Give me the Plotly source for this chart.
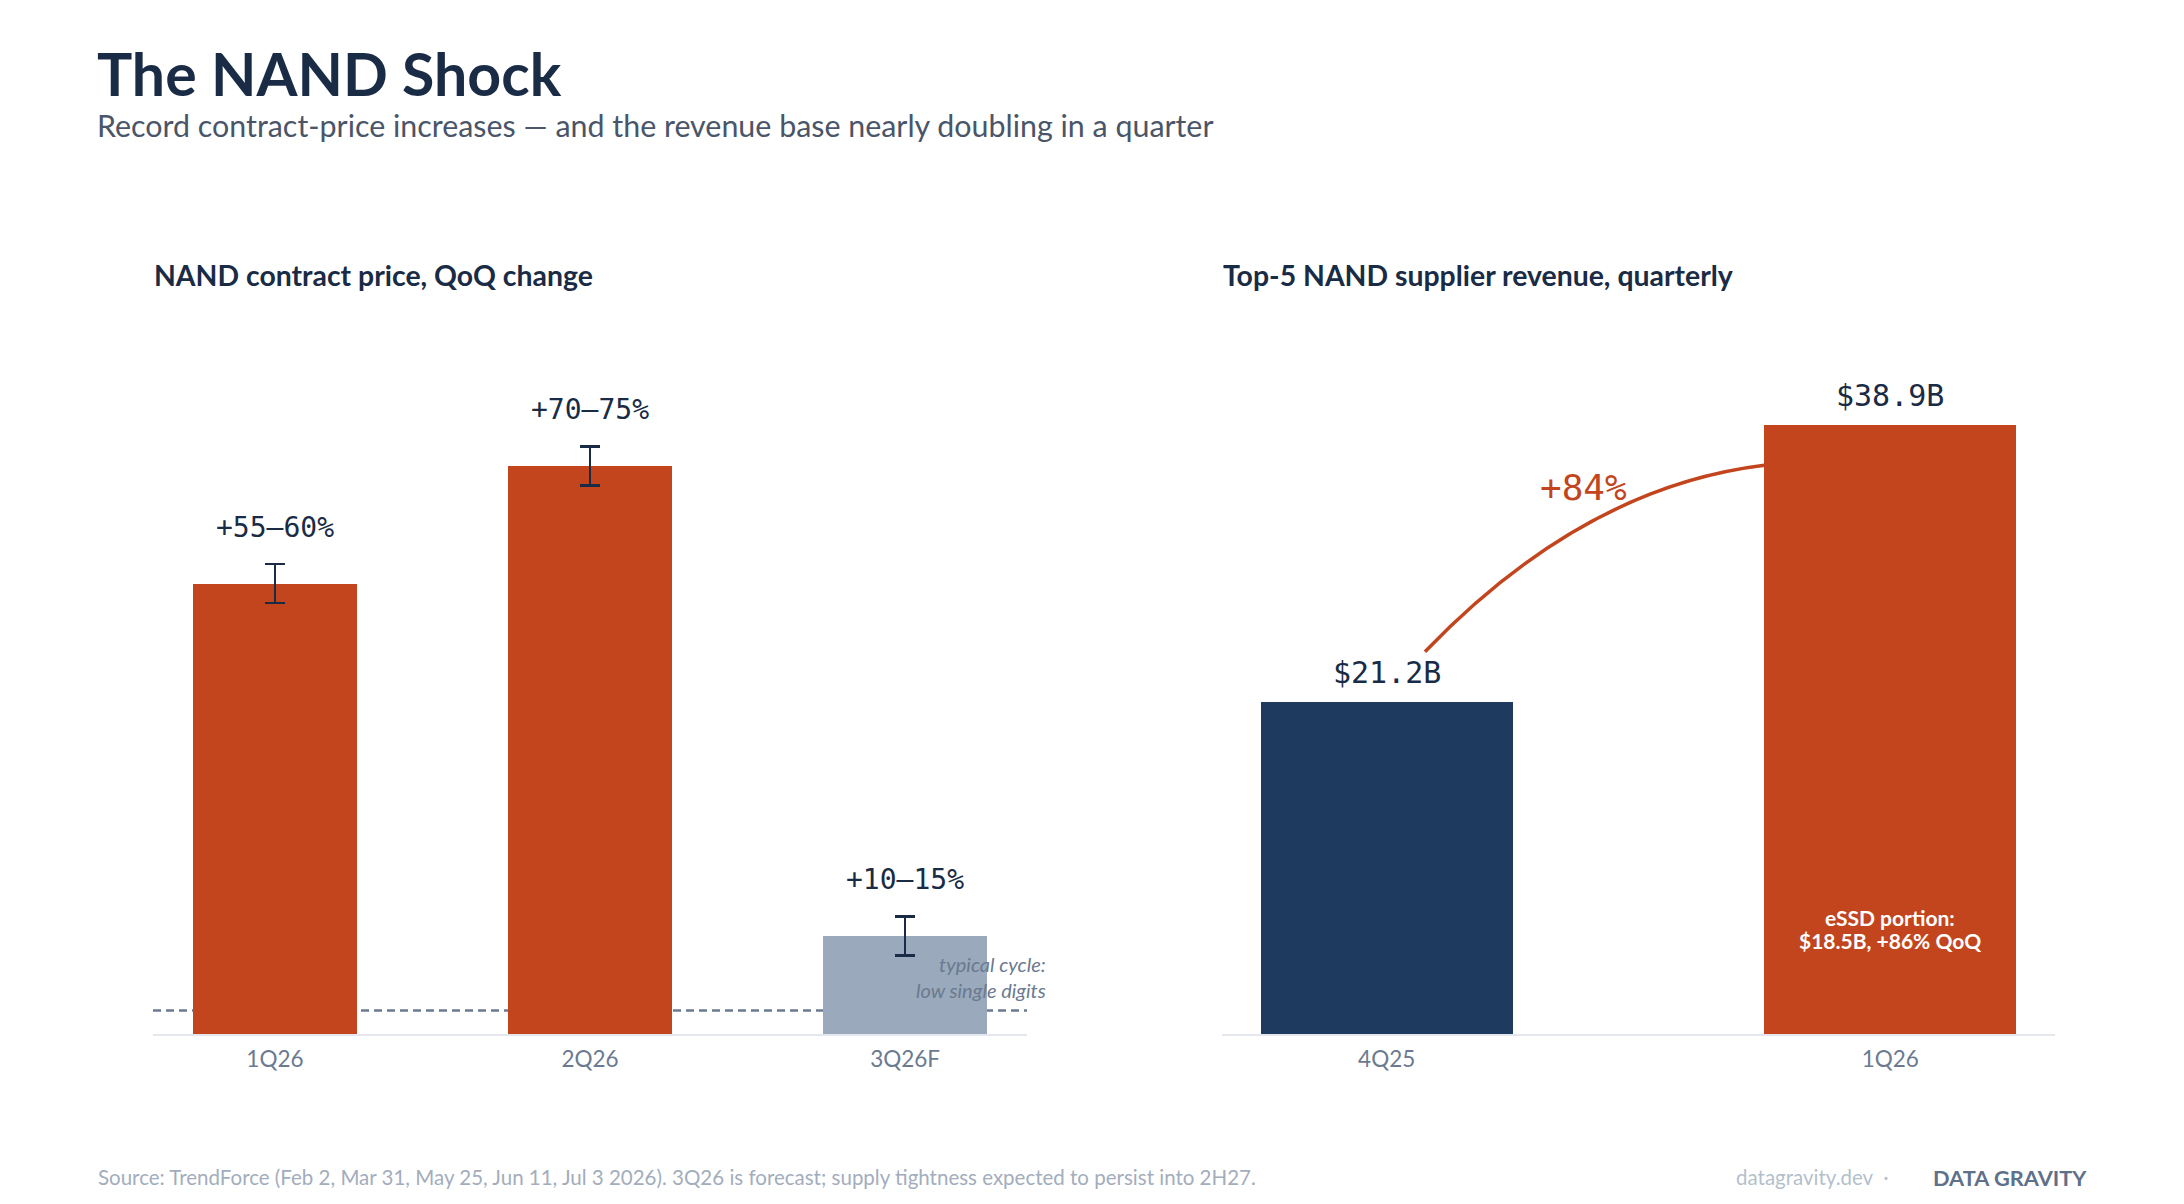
import plotly.graph_objects as go

# left panel: NAND contract price, QoQ change (%)
price_quarters = ["1Q26", "2Q26", "3Q26F"]
price_low = [55, 70, 10]
price_high = [60, 75, 15]
price_labels = ["+55–60%", "+70–75%", "+10–15%"]
typical_cycle = 3  # low single digits

# right panel: top-5 NAND supplier revenue ($B)
rev_quarters = ["4Q25", "1Q26"]
rev_values = [21.2, 38.9]
rev_labels = ["$21.2B", "$38.9B"]
rev_growth = "+84%"
essd_lines = ["eSSD portion:", "$18.5B, +86% QoQ"]

ORANGE = "#c2451e"
NAVY = "#1f3a5f"
SLATE = "#9aa9bc"
INK = "#1a2b45"
MUTED = "#6b7a90"
FONT = "Lato"
MONO = "DejaVu Sans Mono"

# page body has an 8px margin, so the figure is a bit smaller than the window
W, H = 2176, 1196


def px(x):
    return (x - 8) / W


def py(y):
    return 1 - (y - 8) / H


price_mid = [(lo + hi) / 2 for lo, hi in zip(price_low, price_high)]
price_err = [(hi - lo) / 2 for lo, hi in zip(price_low, price_high)]
price_x = list(range(len(price_quarters)))
rev_x = list(range(len(rev_quarters)))
rev_bar_width = 0.5

fig = go.Figure()

fig.add_trace(go.Bar(
    x=price_x, y=price_mid, width=0.52,
    marker=dict(color=[ORANGE, ORANGE, SLATE], line_width=0),
    error_y=dict(type="data", array=price_err, color=INK, thickness=2.5, width=10),
    xaxis="x", yaxis="y", showlegend=False, hoverinfo="skip",
))

fig.add_trace(go.Bar(
    x=rev_x, y=rev_values, width=rev_bar_width,
    marker=dict(color=[NAVY, ORANGE], line_width=0),
    xaxis="x2", yaxis="y2", showlegend=False, hoverinfo="skip",
))

annotations = []

# headline
annotations.append(dict(text="<b>The NAND Shock</b>", x=px(95), y=py(74), xref="paper", yref="paper",
                        xanchor="left", yanchor="middle", showarrow=False,
                        font=dict(family=FONT, size=59, color=INK)))
annotations.append(dict(text="Record contract-price increases — and the revenue base nearly doubling in a quarter",
                        x=px(95), y=py(125), xref="paper", yref="paper", xanchor="left", yanchor="middle",
                        showarrow=False, font=dict(family=FONT, size=30.4, color="#4a5568")))

# panel titles
annotations.append(dict(text="<b>NAND contract price, QoQ change</b>", x=px(152), y=py(275),
                        xref="paper", yref="paper", xanchor="left", yanchor="middle", showarrow=False,
                        font=dict(family=FONT, size=28.4, color=INK)))
annotations.append(dict(text="<b>Top-5 NAND supplier revenue, quarterly</b>", x=px(1221), y=py(275),
                        xref="paper", yref="paper", xanchor="left", yanchor="middle", showarrow=False,
                        font=dict(family=FONT, size=28.4, color=INK)))

# range labels above error bars
for xi, hi, lab in zip(price_x, price_high, price_labels):
    annotations.append(dict(text=lab, x=xi, y=hi, xref="x", yref="y", yshift=37,
                            xanchor="center", yanchor="middle", showarrow=False,
                            font=dict(family=MONO, size=28, color=INK)))

# typical cycle note
annotations.append(dict(text="<i>typical cycle:<br>low single digits</i>", x=px(1047), y=typical_cycle,
                        xref="paper", yref="y", yshift=34, xanchor="right", yanchor="middle", align="right",
                        showarrow=False, borderpad=0, font=dict(family=FONT, size=20, color=MUTED)))

# revenue labels
for xi, v, lab in zip(rev_x, rev_values, rev_labels):
    annotations.append(dict(text=lab, x=xi, y=v, xref="x2", yref="y2", yshift=29,
                            xanchor="center", yanchor="middle", showarrow=False,
                            font=dict(family=MONO, size=30, color=INK)))

# growth arc from the 4Q25 label to the 1Q26 bar
x0, y0 = rev_x[0] + 0.076, rev_values[0] + 3.2
x1, y1 = rev_x[1] - rev_bar_width / 2, rev_values[1] - 2.6
cx, cy = 0.39, rev_values[1] - 4.0
annotations.append(dict(text=rev_growth, x=cx, y=cy, xref="x2", yref="y2",
                        xanchor="center", yanchor="middle", showarrow=False,
                        font=dict(family=MONO, size=36, color=ORANGE)))

# eSSD note inside the 1Q26 bar
for txt, shift in zip(essd_lines, [117, 94]):
    annotations.append(dict(text=f"<b>{txt}</b>", x=rev_x[1], y=0, xref="x2", yref="y2", yshift=shift,
                            xanchor="center", yanchor="middle", showarrow=False,
                            font=dict(family=FONT, size=21, color="white")))

# footer
annotations.append(dict(text="Source: TrendForce (Feb 2, Mar 31, May 25, Jun 11, Jul 3 2026). "
                             "3Q26 is forecast; supply tightness expected to persist into 2H27.",
                        x=px(96), y=py(1177), xref="paper", yref="paper", xanchor="left", yanchor="middle",
                        showarrow=False, font=dict(family=FONT, size=20.5, color="#a3adbc")))
annotations.append(dict(text="datagravity.dev  ·", x=px(1891), y=py(1177), xref="paper", yref="paper",
                        xanchor="right", yanchor="middle", showarrow=False,
                        font=dict(family=FONT, size=20.5, color="#b4bfcc")))
annotations.append(dict(text="<b>DATA GRAVITY</b>", x=px(1931), y=py(1177), xref="paper", yref="paper",
                        xanchor="left", yanchor="middle", showarrow=False,
                        font=dict(family=FONT, size=21.8, color="#5f7089")))

shapes = [
    dict(type="line", xref="x domain", yref="y", x0=0, x1=1, y0=typical_cycle, y1=typical_cycle,
         line=dict(color=MUTED, width=2.5, dash="8px,5px"), layer="below"),
    dict(type="path", xref="x2", yref="y2", path=f"M {x0},{y0} Q {cx},{cy} {x1},{y1}",
         line=dict(color=ORANGE, width=3.5)),
]

axis_common = dict(showgrid=False, zeroline=False, showline=True, linecolor="#e4e8ee", linewidth=2,
                   ticks="", ticklabelstandoff=4,
                   tickfont=dict(family=FONT, size=22.5, color=MUTED), fixedrange=True)

fig.update_layout(
    width=W, height=H,
    margin=dict(l=0, r=0, t=0, b=0),
    paper_bgcolor="white", plot_bgcolor="white",
    font=dict(family=FONT),
    xaxis=dict(domain=[px(153), px(1027)], range=[-0.387, 2.387], tickvals=price_x, ticktext=price_quarters,
               anchor="y", **axis_common),
    yaxis=dict(domain=[py(1034), py(329)], range=[0, 90], visible=False, anchor="x"),
    xaxis2=dict(domain=[px(1222), px(2055)], range=[-0.327, 1.327], tickvals=rev_x, ticktext=rev_quarters,
                anchor="y2", **axis_common),
    yaxis2=dict(domain=[py(1034), py(329)], range=[0, 45], visible=False, anchor="x2"),
    annotations=annotations,
    shapes=shapes,
    bargap=0,
)

fig.write_html("out.html")
